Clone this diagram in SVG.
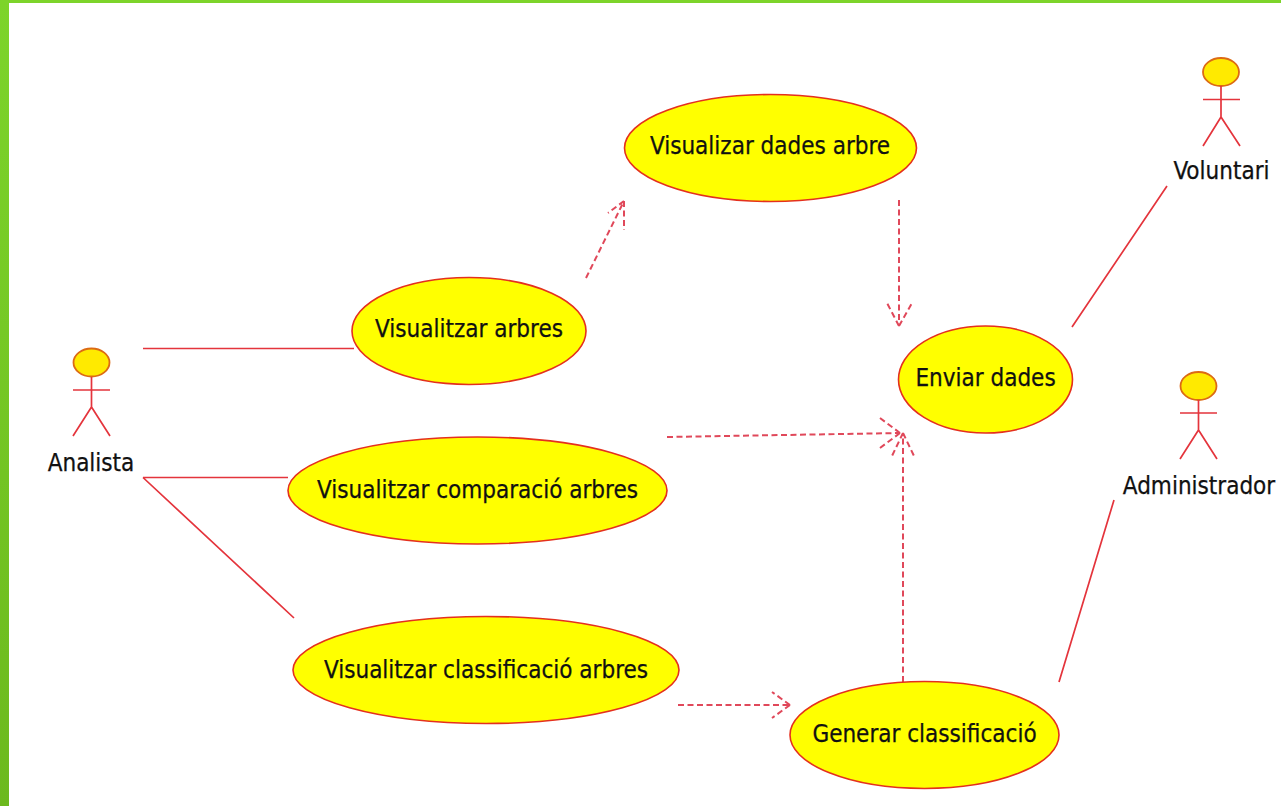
<svg xmlns="http://www.w3.org/2000/svg" width="1281" height="806" viewBox="0 0 1281 806">
<style>
.uc{fill:#ffff00;stroke:#e4301e;stroke-width:1.6}
.head{fill:#ffea00;stroke:#dc6a14;stroke-width:1.8}
.ln{fill:none;stroke:#e4343c;stroke-width:1.7}
.dash{fill:none;stroke:#e0485a;stroke-width:2;stroke-dasharray:6 3.5}
text{font-family:"DejaVu Sans",sans-serif;font-stretch:condensed;font-size:24px;fill:#111;stroke:#111;stroke-width:0.25;text-anchor:middle}
</style>
<defs><linearGradient id="bar" x1="0" y1="0" x2="0" y2="1"><stop offset="0" stop-color="#7dd42a"/><stop offset="1" stop-color="#6cb91e"/></linearGradient></defs>
<rect width="1281" height="806" fill="#fff"/>
<rect width="1281" height="3" fill="#7dd42a"/>
<rect width="9" height="806" fill="url(#bar)"/>
<g id="connectors">
<path class="ln" d="M143 348.500H354M143 477.500H288M143 477.500L294 618M1072 327L1167 186M1059 682L1114 500"/>
<path class="dash" d="M586 278L624 201M624 201L608 213M624 201V230"/>
<path class="dash" d="M899 200V326M899 326L887 303M899 326L912 303"/>
<path class="dash" d="M667 437L900 433M900 433L880 418M900 433L880 448"/>
<path class="dash" d="M903 682V433M903 433L892 456M903 433L914 456"/>
<path class="dash" d="M678 705H790M790 705L772 692M790 705L772 718"/>
</g>
<g id="uc-visualizar-dades"><ellipse class="uc" cx="770.500" cy="148" rx="146" ry="53.500"/><text x="770" y="154">Visualizar dades arbre</text></g>
<g id="uc-visualitzar-arbres"><ellipse class="uc" cx="469" cy="331" rx="117" ry="53.500"/><text x="469" y="337">Visualitzar arbres</text></g>
<g id="uc-enviar-dades"><ellipse class="uc" cx="985.500" cy="379.500" rx="87" ry="53.500"/><text x="985.500" y="386">Enviar dades</text></g>
<g id="uc-comparacio"><ellipse class="uc" cx="477.500" cy="490.500" rx="189.500" ry="53.500"/><text x="477.500" y="498">Visualitzar comparació arbres</text></g>
<g id="uc-classificacio"><ellipse class="uc" cx="486" cy="670" rx="193" ry="53.500"/><text x="486" y="678">Visualitzar classificació arbres</text></g>
<g id="uc-generar"><ellipse class="uc" cx="924.500" cy="735" rx="134.500" ry="53.500"/><text x="924.500" y="742">Generar classificació</text></g>
<g id="actor-analista"><ellipse class="head" cx="91.500" cy="362.500" rx="18" ry="14"/><path class="ln" d="M91.500 377V407M73 390H110M91.500 407L73 436M91.500 407L110 436"/><text x="91" y="471">Analista</text></g>
<g id="actor-voluntari"><ellipse class="head" cx="1221" cy="72" rx="18" ry="14"/><path class="ln" d="M1221 86V117M1203 99.500H1240M1221 117L1203 146M1221 117L1240 146"/><text x="1221.500" y="179">Voluntari</text></g>
<g id="actor-administrador"><ellipse class="head" cx="1198.500" cy="386" rx="18" ry="14"/><path class="ln" d="M1198.500 400V430M1180 413H1217M1198.500 430L1180 459M1198.500 430L1217 459"/><text x="1199" y="494">Administrador</text></g>
</svg>
